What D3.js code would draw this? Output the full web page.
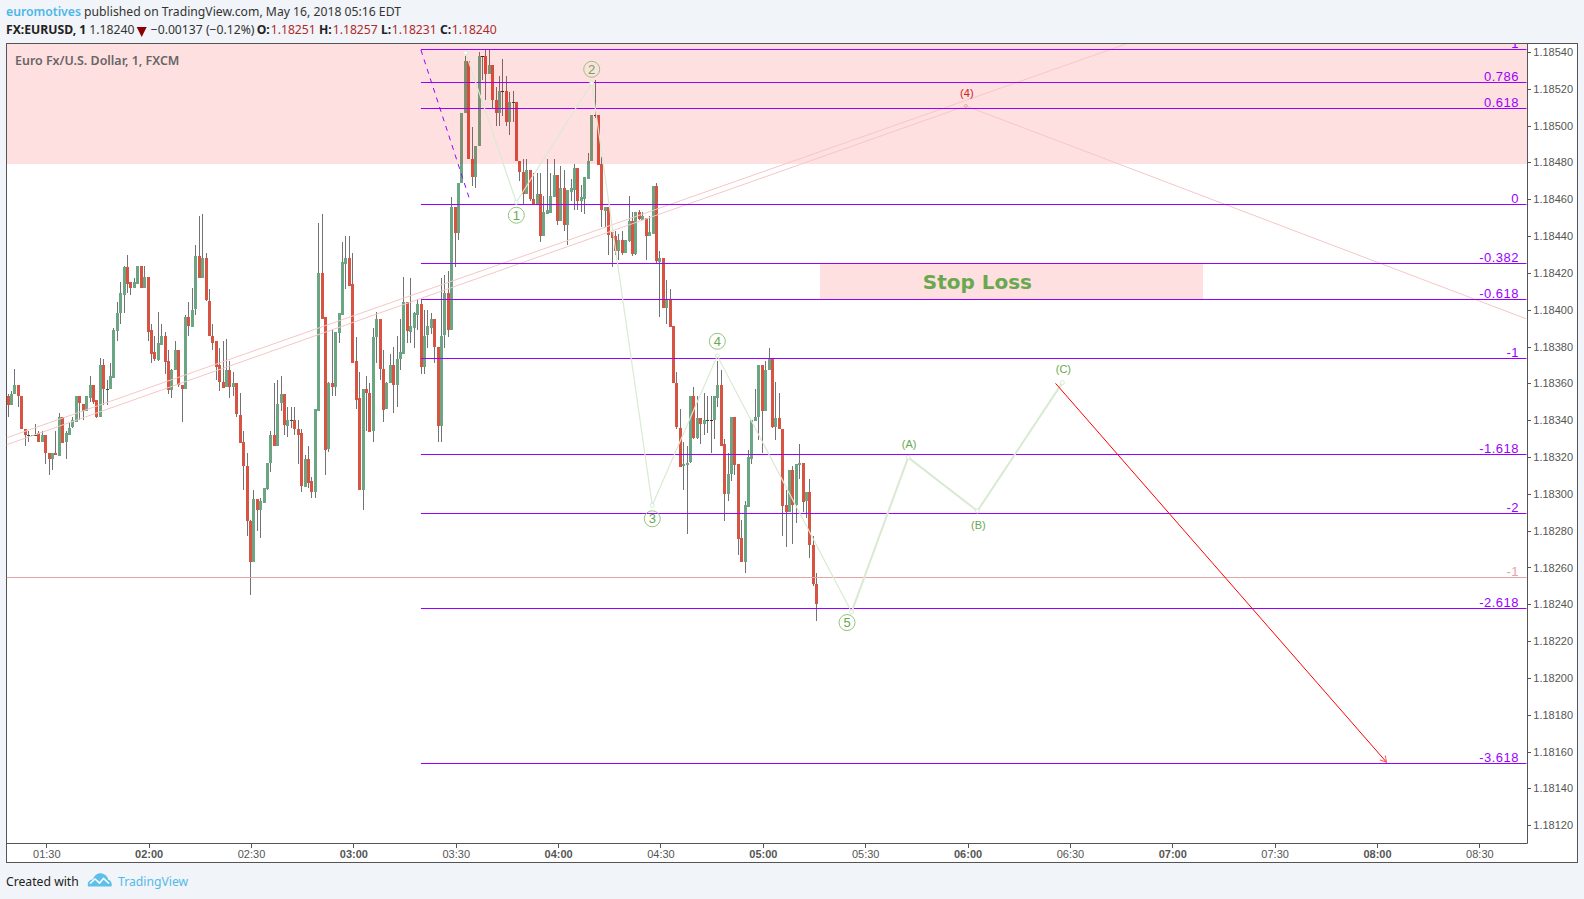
<!DOCTYPE html>
<html><head><meta charset="utf-8">
<script src="https://cdn.jsdelivr.net/npm/d3@7"></script>
<style>
html,body{margin:0;padding:0;background:#f1f4f8;overflow:hidden}
svg{display:block}
text{font-family:"Liberation Sans",Arial,sans-serif}
.ui{font-family:"Noto Sans",sans-serif}
</style></head><body>
<svg id="c" width="1584" height="899"></svg>
<script>
// Prices are points above 1.18000 (1 point = 0.00001). Candles start at 01:19, one per minute.
const firstMinute = 79;
const opens = [
353,348,354,359,353,335,332,332,332,333,
328,332,322,319,322,321,342,328,332,336,
339,353,349,345,352,359,351,342,370,357,
357,363,388,398,408,423,415,412,414,424,
412,418,389,377,373,381,386,372,356,367,
378,359,357,396,391,400,429,417,428,405,
386,383,370,361,358,367,358,360,343,328,
315,285,263,297,291,295,303,317,332,326,
349,354,337,340,340,335,333,304,319,307,
301,345,420,396,324,360,358,387,397,425,
428,414,372,352,302,357,355,334,385,395,
368,346,360,370,359,373,376,404,388,390,
397,403,369,386,390,395,380,337,386,409,
389,456,442,469,507,535,482,472,489,538,
538,528,533,514,507,519,519,502,513,513,
481,475,463,476,460,457,463,440,452,453,
461,473,448,466,446,464,465,477,459,460,
471,481,506,506,479,454,456,442,440,432,
438,431,437,448,430,453,449,450,440,441,
467,426,428,401,406,391,360,336,315,316,
317,353,330,341,338,340,340,340,352,359,
327,300,311,342,316,276,263,293,319,340,
342,370,345,367,373,336,341,335,294,290,
313,294,316,317,296,301,272,251];
const highs = [
354,356,368,359,353,335,334,332,338,334,
334,332,322,322,334,344,342,334,339,342,
353,353,349,353,364,359,351,374,373,362,
371,390,404,415,424,430,415,417,424,424,
424,418,392,386,399,392,388,378,368,383,
378,359,397,404,412,435,451,452,431,411,
392,383,379,383,384,372,366,360,355,334,
322,286,302,297,298,303,317,334,360,362,
364,354,347,347,347,340,335,321,326,309,
346,447,452,396,361,389,388,398,437,440,
440,431,385,366,357,364,360,390,399,395,
378,361,376,380,386,395,418,404,417,399,
406,406,400,400,398,395,380,417,419,421,
461,456,469,507,538,535,499,489,540,538,
541,541,533,521,527,536,527,518,519,513,
481,482,482,476,474,474,474,462,482,474,
482,473,478,476,465,471,479,477,468,472,
485,506,525,506,483,456,456,442,443,441,
443,438,462,453,453,454,453,450,451,467,
469,432,428,416,411,391,366,346,328,326,
353,358,353,341,355,353,353,353,372,367,
330,322,342,342,316,286,296,324,340,357,
370,370,372,379,374,361,355,335,302,313,
315,316,327,317,301,308,277,257];
const lows = [
342,348,354,347,335,326,328,332,332,328,
328,316,310,313,321,321,328,319,332,336,
339,340,340,345,350,349,341,342,348,348,
357,363,383,392,398,409,408,412,414,412,
412,383,371,372,372,381,365,354,352,367,
358,339,357,386,391,397,417,417,405,386,
378,362,356,358,358,352,353,342,328,302,
277,245,263,280,276,295,302,312,326,326,
345,332,331,336,332,316,301,304,303,298,
298,345,395,310,323,353,353,382,397,411,
413,371,346,302,291,334,334,328,371,362,
339,346,360,344,347,367,376,382,382,379,
389,365,365,379,387,371,328,328,379,385,
389,423,438,469,507,482,467,466,489,525,
514,528,509,500,500,505,500,495,502,481,
470,457,463,459,457,457,437,440,452,453,
461,446,448,443,435,459,454,454,453,452,
471,481,504,479,445,445,430,423,430,427,
430,431,437,429,430,449,449,427,440,441,
425,396,401,392,391,360,335,315,302,278,
317,330,330,327,332,333,322,330,347,326,
285,296,307,310,267,263,257,293,316,340,
329,322,345,367,336,329,335,277,271,290,
273,284,308,290,287,265,250,231];
const closes = [
348,354,359,353,335,332,332,332,332,328,
332,322,319,322,321,342,328,333,336,340,
353,349,345,353,359,350,342,370,357,357,
364,389,398,409,423,414,412,415,424,412,
418,388,376,373,382,386,372,356,367,378,
359,357,396,391,400,429,417,428,405,386,
382,369,361,358,367,358,360,343,328,315,
285,263,297,291,296,303,317,332,326,349,
354,337,340,340,335,332,304,319,306,301,
346,420,395,324,360,358,388,398,426,428,
413,371,351,302,357,355,334,385,395,368,
346,360,370,359,373,377,404,388,391,398,
403,369,386,391,395,380,337,386,409,389,
456,442,469,507,535,482,472,489,538,537.9,
528,533,514,507,519,518.9,502,513,513,481,
475,463,476,460,457,463,440,453,454,462,
473,448,466,446,465,466,477,459,461,472,
481,506,505.9,479,454,456,441,439,432,438,
431,438,448,430,453,449,451,440,442,467,
426,428,401,406,391,360,336,315,316,317,
353,330,341,338,340,340,339.9,353,359,326,
300,311,342,316,275,263,294,320,340,342,
370,345,367,373,336,341,335,293,290,313,
294,316,317,296,301,272,251,240];

const priceTicks = [120,140,160,180,200,220,240,260,280,300,320,340,360,380,400,420,440,460,480,500,520,540];
const timeLabels = ["01:30","02:00","02:30","03:00","03:30","04:00","04:30","05:00","05:30","06:00","06:30","07:00","07:30","08:00","08:30"];

const fibLabels = ["1","0.786","0.618","0","-0.382","-0.618","-1","-1.618","-2","-2.618","-3.618"];
const fibPrices = [541.5,523.5,509.4,457.3,425.2,405.7,373.6,321.5,289.4,237.8,153.6];
const fibStart = 199.8;

// annotations: [minute, price]
const waveImpulse = [[212.9,539.6],[227.75,458.4],[249.85,523],[267.6,293.8],[286.66,375],[326,235.8]];
const waveCorrective = [[326,235.8],[342.6,319.8],[362.9,290.7],[387.8,360.4]];
const impulseLabels = ["1","2","3","4","5"];
const correctiveLabels = ["(A)","(B)","(C)"];
const trendUpper = [[78.28,330.4],[406.4,544.3]];
const trendLower = [[78.28,326.6],[359.5,510.7]];
const trendDown  = [[359.5,510.7],[523.7,395.1]];
const waveFour = [359.5,510.7];
const dashed = [[199.8,541.1],[214.2,459.2]];
const arrow = [[385.8,360],[482.8,154.2]];
const pinkLevel = 254.8;
const topZone = {price:[479.2,544.5]};
const stopZone = {time:[316.7,429],price:[405.7,425.2]};

const header = {author:"euromotives",published:" published on TradingView.com, May 16, 2018 05:16 EDT",symbol:"FX:EURUSD, 1",last:"1.18240",change:"\u22120.00137 (\u22120.12%)",
  o:"1.18251",h:"1.18257",l:"1.18231",c:"1.18240",title:"Euro Fx/U.S. Dollar, 1, FXCM"};

const P = {l:6.5,r:1527.5,t:43.5,b:843.5,outerR:1577.5,outerB:862.5};
const svg = d3.select("#c");
const x = d3.scaleLinear().domain([78.28,524.05]).range([6.3,1527.3]);
const y = d3.scaleLinear().domain([110.2,544.5]).range([843.3,43.7]);
const crisp = v => Math.floor(v)+.5;
const line = d3.line().x(d=>x(d[0])).y(d=>y(d[1]));

svg.append("rect").attr("x",P.l).attr("y",P.t).attr("width",P.outerR-P.l).attr("height",P.outerB-P.t).attr("fill","#fff").attr("stroke","#555");
svg.append("defs").append("clipPath").attr("id","pane").append("rect").attr("x",P.l).attr("y",P.t+.5).attr("width",P.r-P.l).attr("height",P.b-P.t-.5);
svg.select("defs").append("marker").attr("id","ah").attr("markerUnits","userSpaceOnUse").attr("markerWidth",12).attr("markerHeight",12)
  .attr("refX",8).attr("refY",6).attr("orient","auto").append("path").attr("d","M2,2.5L8,6L2,9.5").attr("fill","none").attr("stroke","#ff5555").attr("stroke-width",1);
const pane = svg.append("g").attr("clip-path","url(#pane)");

// candles
const barShift = -1.1;
const candles = opens.map((o,i)=>({o,h:highs[i],l:lows[i],c:closes[i],t:firstMinute+i}));
const cg = pane.append("g").attr("shape-rendering","crispEdges");
const cx = d => Math.round(x(d.t)+barShift);
cg.selectAll("rect.w").data(candles).join("rect").attr("class","w")
  .attr("x",d=>cx(d)).attr("width",1).attr("y",d=>y(d.h)).attr("height",d=>Math.max(1,y(d.l)-y(d.h))).attr("fill","#737375");
cg.selectAll("rect.b").data(candles).join("rect").attr("class","b")
  .attr("x",d=>cx(d)-1).attr("width",3)
  .attr("y",d=>Math.round(y(Math.max(d.o,d.c))))
  .attr("height",d=>Math.max(1,Math.round(Math.abs(y(d.o)-y(d.c)))))
  .attr("fill",d=>{
    const small=Math.abs(y(d.o)-y(d.c))<1;
    if(d.c>=d.o) return small?"#225437":"#6ba583";
    return small?"#5b1a13":"#d75442";
  });

// zones over the candles
const zg = pane.append("g").attr("shape-rendering","crispEdges");
zg.append("rect").attr("x",P.l).attr("width",P.r-P.l).attr("y",y(topZone.price[1])).attr("height",y(topZone.price[0])-y(topZone.price[1])).attr("fill","rgba(255,0,0,0.12)");
zg.append("rect").attr("x",x(stopZone.time[0])).attr("width",x(stopZone.time[1])-x(stopZone.time[0])).attr("y",y(stopZone.price[1])).attr("height",y(stopZone.price[0])-y(stopZone.price[1])).attr("fill","rgba(255,0,0,0.12)");
pane.append("text").attr("x",(x(stopZone.time[0])+x(stopZone.time[1]))/2-34).attr("y",(y(stopZone.price[0])+y(stopZone.price[1]))/2+8)
  .attr("text-anchor","middle").style("font-family","'DejaVu Sans'").style("font-weight","bold").style("font-size","20px").attr("fill","#6aa84f").text("Stop Loss");

// trend lines
[trendUpper,trendLower,trendDown].forEach(l=>pane.append("path").attr("d",line(l)).attr("fill","none").attr("stroke","#f6c6c6").attr("stroke-width",1));
pane.append("path").attr("d",line(dashed)).attr("fill","none").attr("stroke","#9900ff").attr("stroke-width",1).attr("stroke-dasharray","5 5");

// fib levels
const right = P.r-1;
const fg = pane.append("g");
fibPrices.forEach((p,i)=>{
  const yy=crisp(y(p));
  fg.append("line").attr("x1",x(fibStart)).attr("x2",right).attr("y1",yy).attr("y2",yy).attr("stroke","#9900ff").attr("stroke-width",1);
  fg.append("text").attr("x",1519).attr("y",yy-1.5).attr("text-anchor","end").attr("fill","#9900ff")
    .style("font-size","13px").style("letter-spacing",".5px").text(fibLabels[i]);
});
const py=crisp(y(pinkLevel));
pane.append("line").attr("x1",P.l).attr("x2",right).attr("y1",py).attr("y2",py).attr("stroke","#e6a3a3");
pane.append("text").attr("x",1519).attr("y",py-1.5).attr("text-anchor","end").attr("fill","#e6a3a3").style("font-size","13px").style("letter-spacing",".5px").text("-1");

// Elliott waves
pane.append("path").attr("d",line(waveImpulse)).attr("fill","none").attr("stroke","#d9ead3").attr("stroke-width",1.2);
pane.append("path").attr("d",line(waveCorrective)).attr("fill","none").attr("stroke","#d9ead3").attr("stroke-width",2);
[...waveImpulse,...waveCorrective.slice(1)].forEach(d=>{
  pane.append("circle").attr("cx",x(d[0])).attr("cy",y(d[1])).attr("r",2).attr("fill","#fff").attr("stroke","#d9ead3");
});
const impulseOff=[13,-14,13.5,-14.5,10.5];
const impulseDx=[0,0,0,0,-4.5];
waveImpulse.slice(1).forEach((d,i)=>{
  const cxx=x(d[0])+impulseDx[i], cyy=y(d[1])+impulseOff[i];
  pane.append("circle").attr("cx",cxx).attr("cy",cyy).attr("r",8).attr("fill","none").attr("stroke","#93c47d");
  pane.append("text").attr("x",cxx).attr("y",cyy+4.5).attr("text-anchor","middle").attr("fill","#6aa84f").style("font-size","13px").text(impulseLabels[i]);
});
const corrOff=[-9,18,-10];
waveCorrective.slice(1).forEach((d,i)=>{
  pane.append("text").attr("x",x(d[0])+1).attr("y",y(d[1])+corrOff[i]).attr("text-anchor","middle").attr("fill","#6aa84f").style("font-size","11px").text(correctiveLabels[i]);
});
pane.append("circle").attr("cx",x(waveFour[0])).attr("cy",y(waveFour[1])).attr("r",1.5).attr("fill","none").attr("stroke","#f0a8a8");
pane.append("text").attr("x",x(waveFour[0])+1).attr("y",y(waveFour[1])-9).attr("text-anchor","middle").attr("fill","#cc2222").style("font-size","11px").text("(4)");

pane.append("path").attr("d",line(arrow)).attr("fill","none").attr("stroke","#ff0000").attr("stroke-width",1).attr("marker-end","url(#ah)");

// title in pane
pane.append("text").attr("class","ui").attr("x",15).attr("y",64.5).attr("fill","#666").style("font-weight","600").style("font-size","12.45px").text(header.title);

// axes
const ya = d3.axisRight(y).tickValues(priceTicks).tickSize(4).tickPadding(2).tickFormat(d=>(1.18+d/1e5).toFixed(5));
const ga = svg.append("g").attr("transform",`translate(${P.r-.2},0)`).call(ya);
const minuteOf = s => { const [h,m]=s.split(":").map(Number); return h*60+m; };
const xa = d3.axisBottom(x).tickValues(timeLabels.map(minuteOf)).tickSize(4).tickPadding(2)
  .tickFormat(m=>timeLabels.find(s=>minuteOf(s)===m));
const gx = svg.append("g").attr("transform",`translate(0,${P.b+.3})`).call(xa);
[ga,gx].forEach(g=>{
  g.select(".domain").remove();
  g.selectAll("line").attr("stroke","#555").attr("shape-rendering","crispEdges");
  g.selectAll("text").attr("fill","#555").style("font-size","11px");
});
gx.selectAll("text").style("font-weight",m=>m%60===0?"bold":"normal");
svg.append("line").attr("x1",P.r).attr("x2",P.r).attr("y1",P.t).attr("y2",P.b).attr("stroke","#555");
svg.append("line").attr("x1",P.l).attr("x2",P.r).attr("y1",P.b).attr("y2",P.b).attr("stroke","#555");

// header
const txt=(x0,yy,s,fill,bold,size)=>svg.append("text").attr("class","ui").attr("x",x0).attr("y",yy).attr("fill",fill).style("font-weight",bold?"700":"400").style("font-size",(size||12.2)+"px").text(s);
const h1=svg.append("text").attr("class","ui").attr("x",6).attr("y",16).style("font-size","12.2px");
h1.append("tspan").attr("fill","#4db6e8").style("font-weight","600").text(header.author);
h1.append("tspan").attr("fill","#333").text(header.published);
txt(6,34,header.symbol,"#222",true);
txt(89.3,34,header.last,"#333");
svg.append("path").attr("d","M136.7,27H146.7L141.7,37Z").attr("fill","#8b0000");
txt(150.7,34,header.change,"#333");
const red="#b02a2a";
txt(256.7,34,"O:","#222",true); txt(270.7,34,header.o,red);
txt(319,34,"H:","#222",true); txt(332.7,34,header.h,red);
txt(381,34,"L:","#222",true); txt(391.7,34,header.l,red);
txt(440,34,"C:","#222",true); txt(451.7,34,header.c,red);

// footer
txt(6,885.5,"Created with","#222",false,12.2);
const logo=svg.append("g").attr("transform","translate(88,872.5)");
logo.append("path").attr("d","M0,14 C-1,9 2,7 5,7 C6,3 10,0 14,1 C18,2 20,5 20,7 C23,8 24.5,11 23.5,14 Z").attr("fill","#5cc0ea");
logo.append("path").attr("d","M2,11 L7,6.5 L11.5,10.5 L15.5,6 L21,11").attr("fill","none").attr("stroke","#fff").attr("stroke-width",1.6);
txt(118,885.5,"TradingView","#53b9ea",false,12.2);
</script>
</body></html>
